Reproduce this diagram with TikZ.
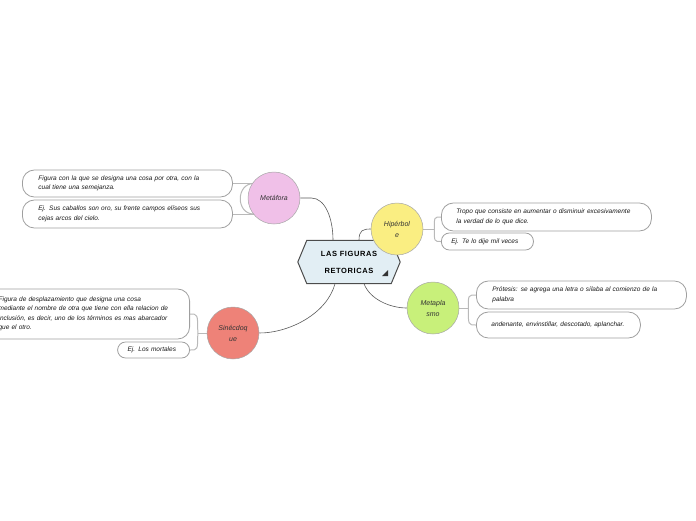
\documentclass[tikz,border=0pt]{standalone}
\usepackage{fontspec}
\setmainfont{Liberation Sans}
\newfontfamily\headfont[LetterSpace=8]{Liberation Sans}
\usetikzlibrary{positioning,backgrounds}
\definecolor{maincol}{HTML}{E2EEF4}
\definecolor{metcol}{HTML}{F0C0E8}
\definecolor{hipcol}{HTML}{FAEE82}
\definecolor{mplcol}{HTML}{C8F07A}
\definecolor{sincol}{HTML}{EE8278}
\tikzset{
  idea/.style={circle, draw=gray!70, line width=0.5pt, minimum size=52pt, inner sep=1pt,
    align=center, font=\itshape\fontsize{7}{11}\selectfont, text=black!80},
  leaf/.style={draw=gray!75, line width=0.8pt, fill=white, rounded corners=12pt,
    align=left, inner xsep=16pt, inner ysep=2pt, anchor=west,
    font=\itshape\fontsize{6.5}{9.5}\selectfont, text=black!90},
  hub/.style={draw=black!65, line width=0.6pt},
  twig/.style={draw=gray!55, line width=1pt},
}
\begin{document}
\begin{tikzpicture}[x=1pt,y=-1pt]
  \useasboundingbox (0,0) rectangle (696,520);

  % central topic
  \node[minimum width=102pt, minimum height=43pt, align=center,
    font=\headfont\bfseries\fontsize{7.5}{17}\selectfont] (main) at (349,262) {LAS FIGURAS\\RETORICAS};

  % figures
  \node[idea, fill=metcol] (met) at (274,198) {Metáfora};
  \node[idea, fill=hipcol] (hip) at (397,229) {Hipérbol\\e};
  \node[idea, fill=mplcol] (mpl) at (433,308) {Metapla\\smo};
  \node[idea, fill=sincol] (sin) at (233,333) {Sinécdoq\\ue};

  % Metafora leaves
  \node[leaf, text width=178pt, minimum height=27pt] (m1) at (22,183.5)
    {Figura con la que se designa una cosa por otra, con la\\cual tiene una semejanza.};
  \node[leaf, text width=178pt, minimum height=28pt] (m2) at (22,214)
    {Ej. Sus caballos son oro, su frente campos elíseos sus\\cejas arcos del cielo.};

  % Hiperbole leaves
  \node[leaf, text width=180pt, minimum height=28pt, inner xsep=15pt] (h1) at (441,217)
    {Tropo que consiste en aumentar o disminuir excesivamente\\la verdad de lo que dice.};
  \node[leaf, rounded corners=8pt, text width=72pt, minimum height=17pt, inner xsep=10pt] (h2) at (441,241.5)
    {Ej. Te lo dije mil veces};

  % Metaplasmo leaves
  \node[leaf, text width=178pt, minimum height=28pt] (p1) at (476,295)
    {Prótesis: se agrega una letra o sílaba al comienzo de la\\palabra};
  \node[leaf, text width=134pt, minimum height=26pt, inner xsep=15pt] (p2) at (476,325)
    {andenante, envinstillar, descotado, aplanchar.};

  % Sinecdoque leaves
  \node[leaf, anchor=east, text width=178pt, minimum height=50pt, inner xsep=13pt] (s1) at (190,314)
    {Figura de desplazamiento que designa una cosa\\mediante el nombre de otra que tiene con ella relacion de\\inclusión, es decir, uno de los términos es mas abarcador\\que el otro.};
  \node[leaf, anchor=east, rounded corners=8pt, text width=52pt, minimum height=16pt, inner xsep=10pt] (s2) at (190,350)
    {Ej. Los mortales};

  \coordinate (metj) at ([xshift=-12pt]met.west);
  \coordinate (hipj) at ([xshift=11pt]hip.east);
  \coordinate (mplj) at ([xshift=9pt]mpl.east);
  \coordinate (sinj) at ([xshift=-9pt]sin.west);

  \begin{scope}[on background layer]
    % hexagon of the central topic
    \draw[fill=maincol, draw=black!70, line width=1pt] (main.west) -- ([xshift=9pt]main.north west)
      -- ([xshift=-9pt]main.north east) -- (main.east) -- ([xshift=-9pt]main.south east)
      -- ([xshift=9pt]main.south west) -- cycle;

    % central topic to figures
    \draw[hub] (met.east) -- ++(11,0) .. controls +(14,0) and +(0,-22) .. ([xshift=-16pt]main.north);
    \draw[hub] ([xshift=10pt]main.north) .. controls +(0,-10) and +(-8,0) .. (hip.west);
    \draw[hub] ([xshift=15pt]main.south) .. controls +(6,16) and +(-16,0) .. (mpl.west);
    \draw[hub] ([xshift=-14pt]main.south) .. controls +(-8,30) and +(30,0) .. (sin.east);

    % figures to leaves
    \draw[twig] (m1.east) -- (m1.east -| met.center);
    \draw[twig] (m2.east) -- (m2.east -| met.center);
    \draw[twig] ([xshift=6pt]met.west |- m1.east) .. controls (metj |- m1.east) and (metj |- m2.east)
      .. ([xshift=6pt]met.west |- m2.east);

    \draw[twig] (hip.east) -- (hipj);
    \draw[twig] (hipj) .. controls (hipj |- h1.west) .. (h1.west);
    \draw[twig] (hipj) .. controls (hipj |- h2.west) .. (h2.west);

    \draw[twig] (mpl.east) -- (mplj);
    \draw[twig] (mplj) .. controls (mplj |- p1.west) .. (p1.west);
    \draw[twig] (mplj) .. controls (mplj |- p2.west) .. (p2.west);

    \draw[twig] (sin.west) -- (sinj);
    \draw[twig] (sinj) .. controls (sinj |- s1.east) .. (s1.east);
    \draw[twig] (sinj) .. controls (sinj |- s2.east) .. (s2.east);
  \end{scope}

  % small marker of the central topic
  \fill[black!80] ([shift={(33,14)}]main.center) -- ([shift={(39,14)}]main.center)
    -- ([shift={(39,8)}]main.center) -- cycle;
\end{tikzpicture}
\end{document}
